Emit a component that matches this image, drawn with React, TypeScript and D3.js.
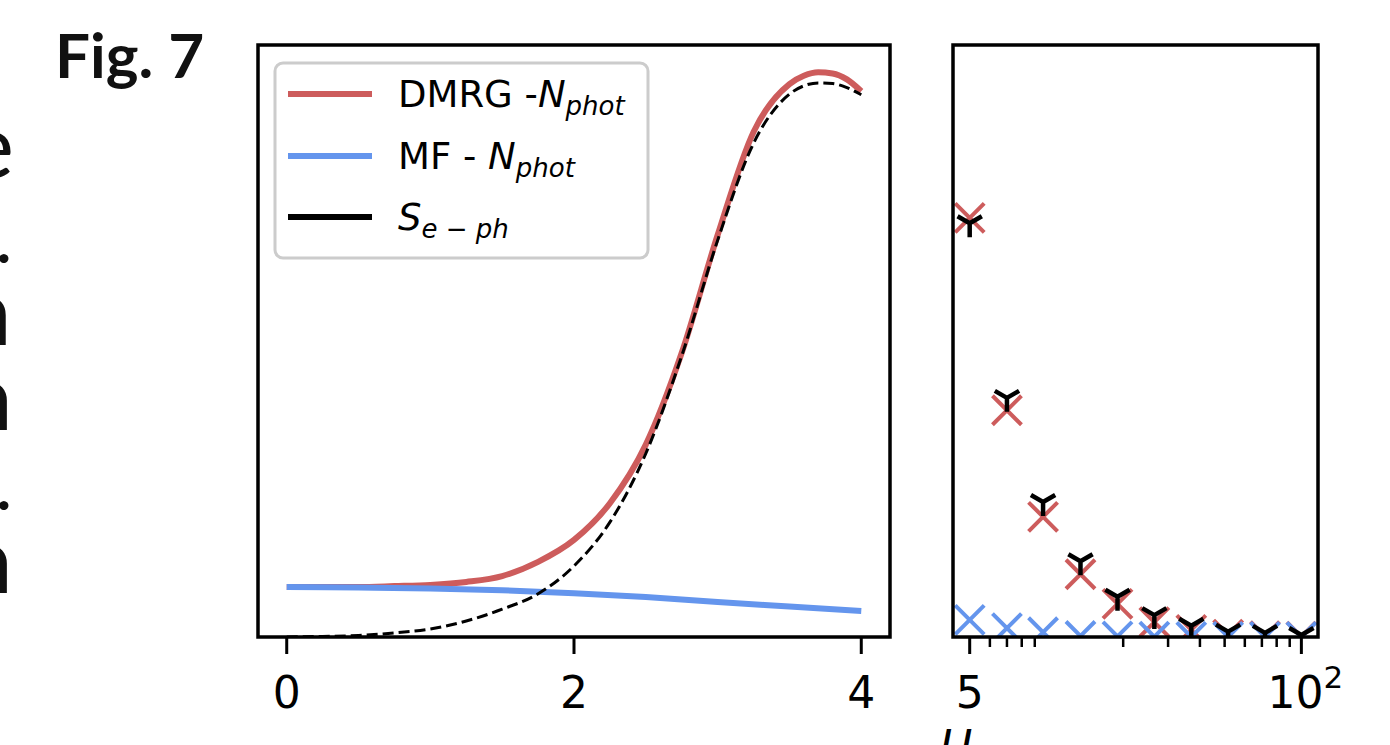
import React from 'react';
import * as d3 from 'd3';

const W = 1390;
const H = 745;

// ---- left panel: photon number / entanglement vs coupling ----
const redX = [0, 0.25, 0.5, 0.75, 1, 1.25, 1.5, 1.75, 2, 2.25, 2.5, 2.75, 3, 3.25, 3.5, 3.6, 3.7, 3.8, 3.9, 4];
const dmrgNphot = [0.0845, 0.0845, 0.0845, 0.086, 0.088, 0.093, 0.103, 0.127, 0.164, 0.226, 0.325, 0.48, 0.679, 0.853, 0.934, 0.948, 0.954, 0.952, 0.942, 0.922];
const sEph = [0, 0.001, 0.0025, 0.007, 0.0135, 0.027, 0.047, 0.073, 0.12, 0.194, 0.31, 0.475, 0.67, 0.834, 0.917, 0.931, 0.936, 0.935, 0.928, 0.916];
const blueX = [0, 0.5, 1, 1.5, 2, 2.5, 3, 3.5, 4];
const mfNphot = [0.0845, 0.0836, 0.082, 0.079, 0.074, 0.0676, 0.059, 0.0515, 0.044];
const leftTicks = [0, 2, 4];

// ---- right panel: vs U (log scale) ----
const uVals = [5, 7, 9.7, 13.6, 19, 26.5, 37, 51.6, 72, 100];
const dmrgU = [0.708, 0.383, 0.203, 0.106, 0.056, 0.025, 0.012, 0.004, 0.0015, 0.0005];
const sU = [0.699, 0.404, 0.228, 0.128, 0.068, 0.037, 0.019, 0.009, 0.007, 0.0035];
const mfU = [0.029, 0.015, 0.008, 0.0017, 0.001, 0.0005, 0.0003, 0.0002, 0.0001, 0.0001];
const rightMajor = [5, 100];
const rightMinor = [6, 7, 8, 9, 20, 30, 40, 50, 60, 70, 80, 90];

const RED = '#cd5c5c';
const BLUE = '#6495ed';
const AX = 'DejaVu Sans, sans-serif';

const legendColors = [RED, BLUE, '#000000'];

const top = 45, bottom = 637;
const L = { left: 258, right: 890 };
const R = { left: 953, right: 1318 };

const xL = d3.scaleLinear().domain([-0.2, 4.2]).range([L.left, L.right]);
const yL = d3.scaleLinear().domain([0, 1]).range([bottom, top]);
const xR = d3.scaleLog().domain([4.3, 116.2]).range([R.left, R.right]);
const yR = d3.scaleLinear().domain([0, 1]).range([bottom, top]);

const lineL = d3.line<[number, number]>()
  .x(d => xL(d[0]))
  .y(d => yL(d[1]))
  .curve(d3.curveMonotoneX);

const xMark = 'M-14.5,-14.5L14.5,14.5M-14.5,14.5L14.5,-14.5';
const r = 14;
const triDown = `M0,0L0,${r}M0,0L${-0.866 * r},${-0.5 * r}M0,0L${0.866 * r},${-0.5 * r}`;

function Legend() {
  const rows = [94, 156, 217];
  return (
    <g>
      <rect x={275} y={63} width={373} height={195} rx={8} fill="#fff" fillOpacity={0.8}
        stroke="#cccccc" strokeWidth={3} />
      {legendColors.map((c, i) => (
        <line key={i} x1={288} x2={372} y1={rows[i]} y2={rows[i]} stroke={c} strokeWidth={6} />
      ))}
      <text x={398} y={rows[0] + 13} fontFamily={AX} fontSize={37}>
        DMRG -<tspan fontStyle="italic">N</tspan>
        <tspan fontStyle="italic" fontSize={26} dy={8}>phot</tspan>
      </text>
      <text x={398} y={rows[1] + 13} fontFamily={AX} fontSize={37}>
        MF - <tspan fontStyle="italic">N</tspan>
        <tspan fontStyle="italic" fontSize={26} dy={8}>phot</tspan>
      </text>
      <text x={398} y={rows[2] + 13} fontFamily={AX} fontSize={37}>
        <tspan fontStyle="italic">S</tspan>
        <tspan fontStyle="italic" fontSize={26} dy={8}>e − ph</tspan>
      </text>
    </g>
  );
}

export default function App() {
  const redPts = redX.map((x, i) => [x, dmrgNphot[i]] as [number, number]);
  const blackPts = redX.map((x, i) => [x, sEph[i]] as [number, number]);
  const bluePts = blueX.map((x, i) => [x, mfNphot[i]] as [number, number]);

  // slivers of the neighbouring page text, cut by the image edge
  const edgeLetters = [
    { t: 'e', x: 14, y: 178, w: 400 },
    { t: '.', x: 11, y: 263, w: 700 },
    { t: 'n', x: 11, y: 345, w: 700 },
    { t: 'a', x: 12, y: 430, w: 700 },
    { t: '.', x: 11, y: 510, w: 700 },
    { t: 'a', x: 12, y: 593, w: 700 },
  ];

  return (
    <div style={{ position: 'absolute', left: 0, top: 0 }}>
      <svg width={W} height={H} style={{ display: 'block', background: '#fff' }}>
        <defs>
          <clipPath id="clipL"><rect x={L.left} y={top} width={L.right - L.left} height={bottom - top} /></clipPath>
          <clipPath id="clipR"><rect x={R.left} y={top} width={R.right - R.left} height={bottom - top} /></clipPath>
        </defs>

        <text x={55} y={78} fontFamily="Lato, 'Open Sans', sans-serif" fontWeight={700} fontSize={62} fill="#111">Fig. 7</text>
        {edgeLetters.map((l, i) => (
          <text key={i} x={l.x} y={l.y} textAnchor="end" fontFamily="Lato, 'Open Sans', sans-serif"
            fontWeight={l.w} fontSize={l.t === '.' ? 60 : 92} fill="#111">{l.t}</text>
        ))}

        {/* left panel */}
        <g clipPath="url(#clipL)">
          <path d={lineL(redPts) || ''} fill="none" stroke={RED} strokeWidth={6} />
          <path d={lineL(bluePts) || ''} fill="none" stroke={BLUE} strokeWidth={6} />
          <path d={lineL(blackPts) || ''} fill="none" stroke="#000" strokeWidth={3} strokeDasharray="11,5" />
        </g>
        <Legend />
        <rect x={L.left} y={top} width={L.right - L.left} height={bottom - top} fill="none" stroke="#000" strokeWidth={3.5} />
        {leftTicks.map(t => (
          <g key={t}>
            <line x1={xL(t)} x2={xL(t)} y1={bottom} y2={bottom + 17} stroke="#000" strokeWidth={3} />
            <text x={xL(t)} y={708} textAnchor="middle" fontFamily={AX} fontSize={44}>{t}</text>
          </g>
        ))}

        {/* right panel */}
        <g clipPath="url(#clipR)" fill="none" strokeLinecap="butt">
          {uVals.map((u, i) => (
            <path key={'r' + i} d={xMark} transform={`translate(${xR(u)},${yR(dmrgU[i])})`} stroke={RED} strokeWidth={4} />
          ))}
          {uVals.map((u, i) => (
            <path key={'b' + i} d={xMark} transform={`translate(${xR(u)},${yR(mfU[i])})`} stroke={BLUE} strokeWidth={4} />
          ))}
          {uVals.map((u, i) => (
            <path key={'k' + i} d={triDown} transform={`translate(${xR(u)},${yR(sU[i])})`} stroke="#000" strokeWidth={4.5} />
          ))}
        </g>
        <rect x={R.left} y={top} width={R.right - R.left} height={bottom - top} fill="none" stroke="#000" strokeWidth={3.5} />
        {rightMajor.map(t => (
          <line key={t} x1={xR(t)} x2={xR(t)} y1={bottom} y2={bottom + 17} stroke="#000" strokeWidth={3} />
        ))}
        {rightMinor.map(t => (
          <line key={t} x1={xR(t)} x2={xR(t)} y1={bottom} y2={bottom + 10} stroke="#000" strokeWidth={2.5} />
        ))}
        <text x={xR(5)} y={708} textAnchor="middle" fontFamily={AX} fontSize={44}>5</text>
        <text x={xR(100) + 4} y={708} textAnchor="middle" fontFamily={AX} fontSize={44}>
          10<tspan fontSize={31} dy={-20}>2</tspan>
        </text>
        <text x={956} y={762} textAnchor="middle" fontFamily={AX} fontStyle="italic" fontSize={44}>U</text>
      </svg>
    </div>
  );
}
